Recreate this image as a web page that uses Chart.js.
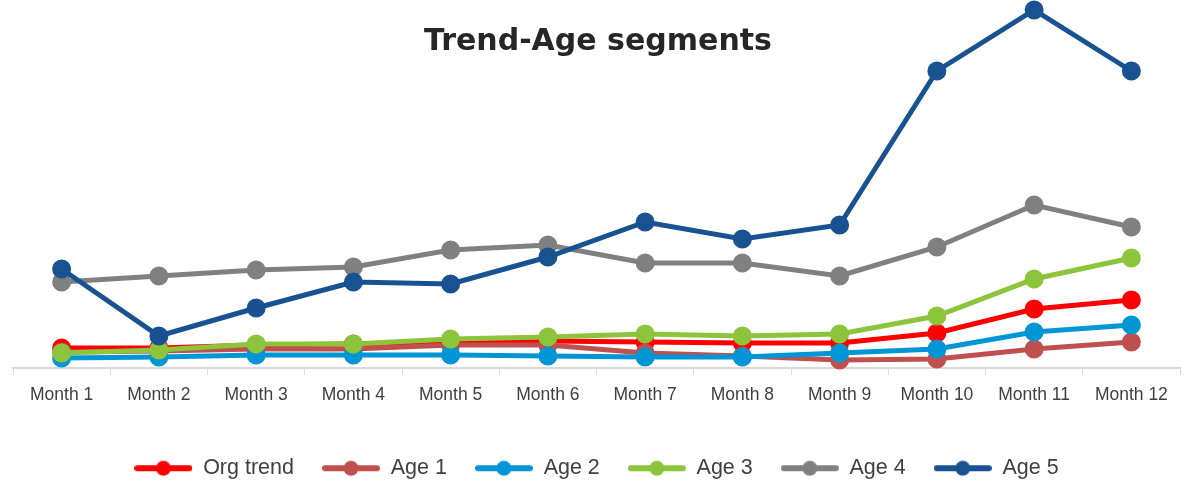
<!DOCTYPE html>
<html>
<head>
<meta charset="utf-8">
<script src="https://cdn.jsdelivr.net/npm/chart.js@4.4.1/dist/chart.umd.min.js"></script>
<style>
  html, body { margin: 0; padding: 0; background: #ffffff; }
  #wrap { position: relative; width: 1196px; height: 481px; }
  #title { position: absolute; left: 0; top: 22px; width: 1196px; text-align: center;
    font-family: "DejaVu Sans", Verdana, sans-serif; font-weight: bold; font-size: 30px; line-height: 36px;
    color: #262626; pointer-events: none; }
</style>
</head>
<body>
<div id="wrap">
  <canvas id="c" width="1196" height="481"></canvas>
  <div id="title">Trend-Age segments</div>
</div>
<script>
const categories = ["Month 1","Month 2","Month 3","Month 4","Month 5","Month 6","Month 7","Month 8","Month 9","Month 10","Month 11","Month 12"];
const seriesNames = ["Org trend","Age 1","Age 2","Age 3","Age 4","Age 5"];
const orgTrend = [20, 20, 23, 24, 26, 27, 26, 25, 25, 35, 59, 68];
const age1     = [16, 17, 19, 19, 23, 23, 15, 12, 8, 9, 19, 26];
const age2     = [10, 11, 13, 13, 13, 12, 11, 11, 15, 19, 36, 43];
const age3     = [15, 18, 24, 24, 29, 31, 34, 32, 34, 52, 89, 110];
const age4     = [86, 92, 98, 101, 118, 123, 105, 105, 92, 121, 163, 141];
const age5     = [99, 32, 60, 86, 84, 111, 146, 129, 143, 297, 358, 297];
const colors   = ["#ff0000","#c0504d","#0096d6","#8cc43c","#808080","#185290"];
const allSeries = [orgTrend, age1, age2, age3, age4, age5];

function legendImage(color) {
  const cv = document.createElement('canvas');
  cv.width = 58; cv.height = 18;
  const g = cv.getContext('2d');
  g.strokeStyle = color; g.lineWidth = 6; g.lineCap = 'round';
  g.beginPath(); g.moveTo(3, 9); g.lineTo(55, 9); g.stroke();
  g.fillStyle = color; g.beginPath(); g.arc(29, 9, 7.5, 0, Math.PI * 2); g.fill();
  return cv;
}
const legendImgs = colors.map(legendImage);

const datasets = seriesNames.map((name, i) => ({
  label: name,
  data: allSeries[i],
  borderColor: colors[i],
  backgroundColor: colors[i],
  borderWidth: 5,
  pointRadius: 7,
  pointHoverRadius: 7,
  pointBackgroundColor: colors[i],
  pointBorderColor: colors[i],
  tension: 0,
  clip: false,
  order: seriesNames.length - i
}));

const tickFont = "'Liberation Sans', Arial, sans-serif";

new Chart(document.getElementById('c'), {
  type: 'line',
  data: { labels: categories, datasets },
  options: {
    responsive: false,
    animation: false,
    layout: { padding: { left: 13, right: 16, top: 3, bottom: -8 } },
    plugins: {
      title: { display: false },
      tooltip: { enabled: false },
      legend: {
        position: 'bottom',
        labels: {
          usePointStyle: true,
          pointStyleWidth: 58,
          padding: 28,
          color: '#404040',
          font: { family: tickFont, size: 21.5 },
          sort: (a, b) => a.datasetIndex - b.datasetIndex,
          generateLabels: (chart) => chart.data.datasets.map((ds, i) => ({
            text: ds.label,
            fillStyle: colors[i],
            strokeStyle: colors[i],
            pointStyle: legendImgs[i],
            datasetIndex: i,
            hidden: false,
            lineWidth: 0,
            fontColor: '#404040'
          }))
        }
      }
    },
    scales: {
      x: {
        offset: true,
        grid: { display: true, drawOnChartArea: false, drawTicks: true, tickLength: 7, color: '#d9d9d9', offset: true },
        border: { display: true, color: '#d9d9d9', width: 2 },
        ticks: {
          color: '#404040',
          padding: 10,
          font: { family: tickFont, size: 17.5 },
          maxRotation: 0, autoSkip: false
        },
        afterFit: (s) => { s.height = 61.5; }
      },
      y: {
        display: false,
        min: 0,
        max: 356
      }
    }
  }
});
</script>
</body>
</html>
